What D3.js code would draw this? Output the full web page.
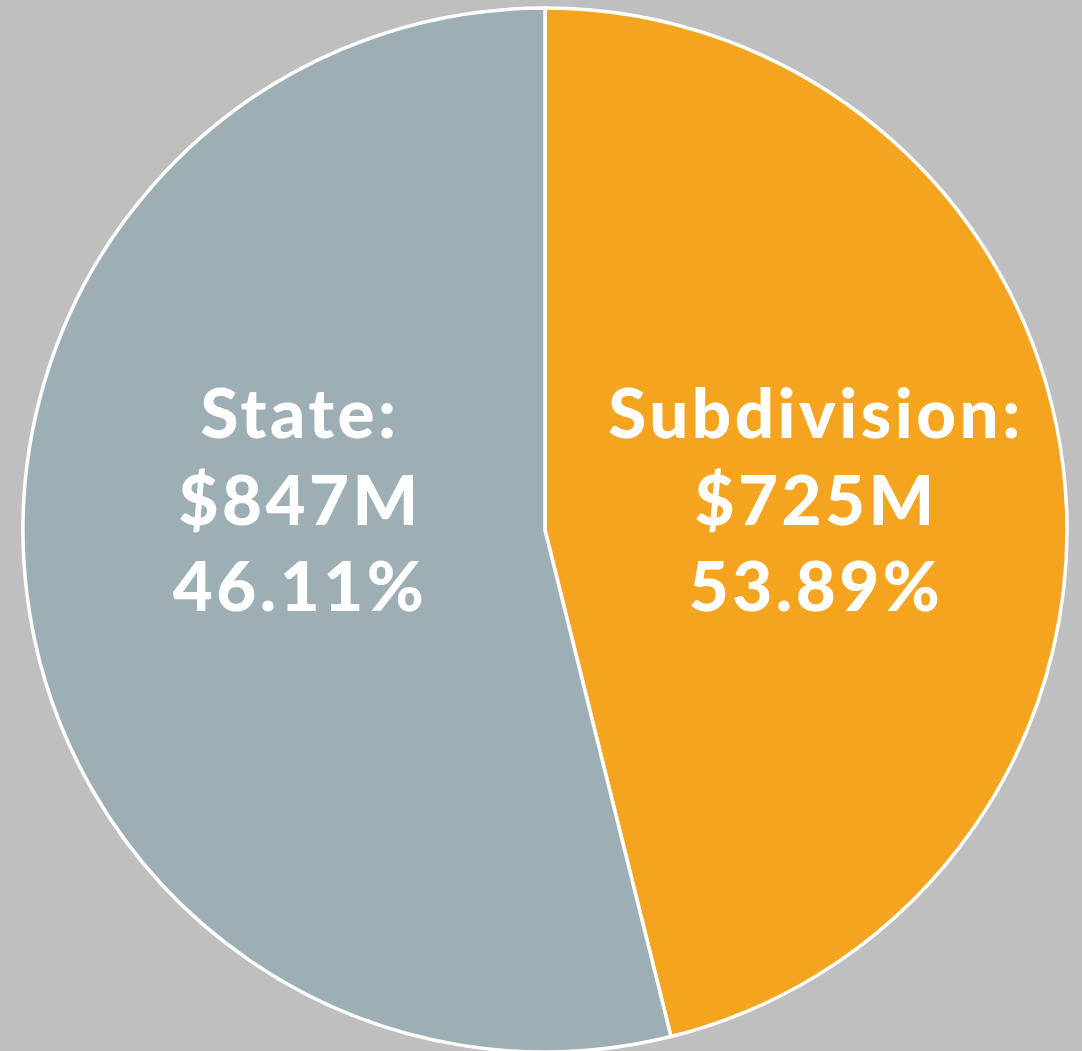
<!DOCTYPE html>
<html lang="en">
<head>
    <meta charset="UTF-8">
    <title>State vs Subdivision</title>
    <script src="https://d3js.org/d3.v7.min.js"></script>
    <style>
        body { margin: 0; background: #bfbfbf; }
        .label { fill: #fff; font-family: Lato, "Open Sans", sans-serif; font-weight: 900; font-size: 69px; letter-spacing: 3.5px; text-anchor: middle; }
    </style>
</head>
<body>
    <svg width="1082" height="1051"></svg>

    <script>
        // Data (slice sizes follow the dollar amounts,
        // the percent labels are kept exactly as printed)
        const categories = ["Subdivision", "State"];
        const amounts = [725, 847];
        const amountLabels = ["$725M", "$847M"];
        const shareLabels = ["53.89%", "46.11%"];
        const colors = ["#f5a41f", "#9daeb4"];

        const width = 1082, height = 1051;
        const cx = 545, cy = 530, radius = 522;

        const svg = d3.select("svg")
            .attr("width", width)
            .attr("height", height);

        const g = svg.append("g")
            .attr("transform", `translate(${cx},${cy})`);

        const data = categories.map((c, i) => ({
            name: c, value: amounts[i], amount: amountLabels[i], share: shareLabels[i], color: colors[i]
        }));

        const pie = d3.pie()
            .sort(null)
            .value(d => d.value);

        const arc = d3.arc()
            .innerRadius(0)
            .outerRadius(radius);

        const arcs = pie(data);

        g.selectAll("path")
            .data(arcs)
            .join("path")
            .attr("d", arc)
            .attr("fill", d => d.data.color)
            .attr("stroke", "#fff")
            .attr("stroke-width", 3.5)
            .attr("stroke-linejoin", "round");

        // Labels sit level with the centre, left / right of it
        const labelX = d => ((d.startAngle + d.endAngle) / 2 < Math.PI ? 271 : -245);

        const labels = g.selectAll("text")
            .data(arcs)
            .join("text")
            .attr("class", "label")
            .attr("transform", d => `translate(${labelX(d)},0)`);

        labels.append("tspan")
            .attr("x", 0)
            .attr("y", -92)
            .text(d => d.data.name + ":");
        labels.append("tspan")
            .attr("x", 0)
            .attr("y", -5)
            .text(d => d.data.amount);
        labels.append("tspan")
            .attr("x", 0)
            .attr("y", 81)
            .text(d => d.data.share);
    </script>
</body>
</html>
